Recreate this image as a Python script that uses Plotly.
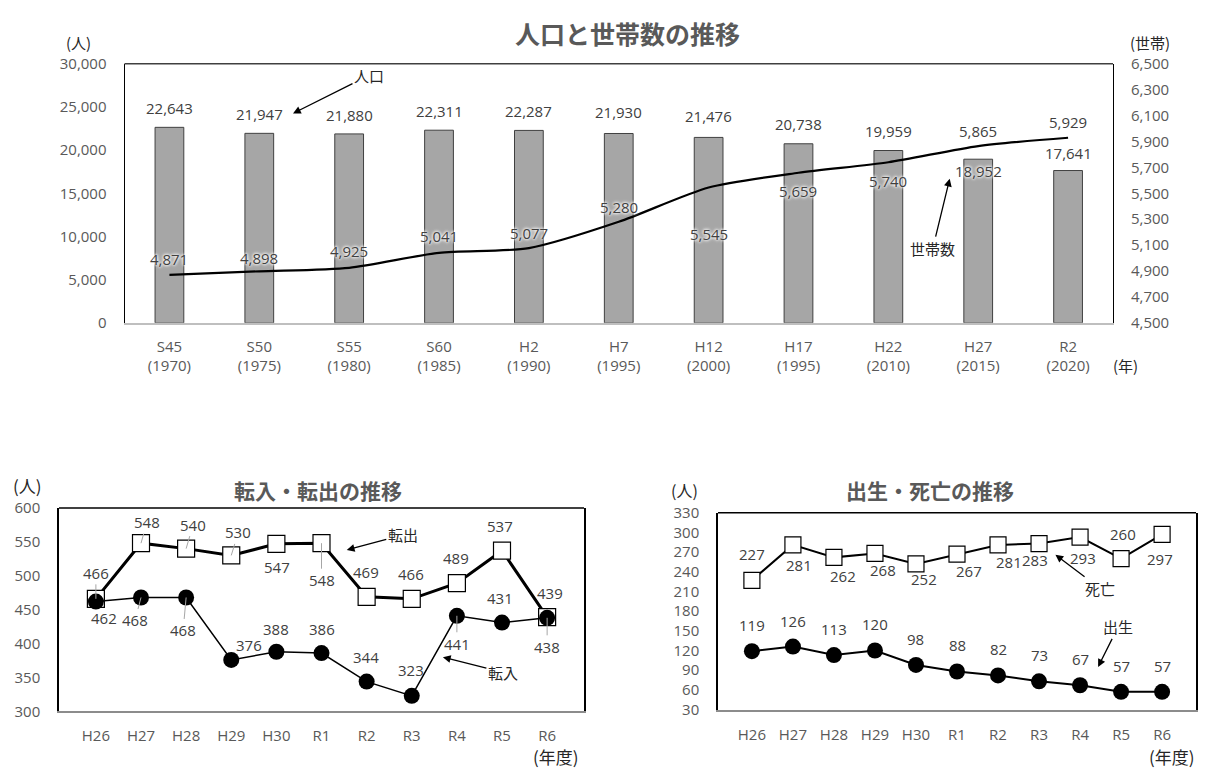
import plotly.graph_objects as go

# ---------------- data ----------------
census_labels = ["S45<br>(1970)", "S50<br>(1975)", "S55<br>(1980)", "S60<br>(1985)", "H2<br>(1990)",
                 "H7<br>(1995)", "H12<br>(2000)", "H17<br>(1995)", "H22<br>(2010)", "H27<br>(2015)",
                 "R2<br>(2020)"]
population = [22643, 21947, 21880, 22311, 22287, 21930, 21476, 20738, 19959, 18952, 17641]
households = [4871, 4898, 4925, 5041, 5077, 5280, 5545, 5659, 5740, 5865, 5929]

fiscal_years = ["H26", "H27", "H28", "H29", "H30", "R1", "R2", "R3", "R4", "R5", "R6"]
move_in = [462, 468, 468, 376, 388, 386, 344, 323, 441, 431, 438]
move_out = [466, 548, 540, 530, 547, 548, 469, 466, 489, 537, 439]
births = [119, 126, 113, 120, 98, 88, 82, 73, 67, 57, 57]
deaths = [227, 281, 262, 268, 252, 267, 281, 283, 293, 260, 297]

# label placement (pixel offsets: dx, dy up, leader line)
pop_lbl_dy = [19, 19, 19, 19, 19, 21, 21, 20, 20, -12, 18]
hh_lbl_dy = [16, 13, 17, 17, 15, 15, -46, -18, -19, 15, 16]
out_lbl = [(0, 26, True), (6, 21, True), (7, 24, True), (7, 23, True), (1, -23, False), (0, -37, True),
           (-1, 25, False), (-1, 25, False), (-1, 25, False), (-2, 25, False), (3, 24, False)]
in_lbl = [(8, -16, False), (-6, -23, True), (-3, -33, True), (18, 15, False), (0, 23, False), (0, 24, False),
          (-1, 25, False), (-1, 26, False), (0, -28, True), (-2, 25, False), (0, -29, True)]
death_lbl = [(0, 26), (6, -20), (9, -19), (8, -17), (8, -15), (12, -17), (11, -17), (-4, -16), (3, -21),
             (2, 25), (-2, -25)]
birth_lbl_dy = 26

# browser body margin compensation: reference pixel -> figure fraction
OFF = 8
W, H = 1214 - OFF, 775 - OFF
def px(x):
    return (x - OFF) / W
def py(y):
    return 1 - (y - OFF) / H

GRAY = "#595959"
TXT = "#404040"
NUM_FONT = "Open Sans, Noto Sans CJK JP"
JP_FONT = "Noto Sans CJK JP"

fig = go.Figure()

# ---------- top chart ----------
fig.add_trace(go.Bar(x=census_labels, y=population, xaxis="x", yaxis="y",
                     marker=dict(color="#a6a6a6", line=dict(color="#404040", width=1)),
                     width=0.32, showlegend=False))
fig.add_trace(go.Scatter(x=census_labels, y=households, xaxis="x", yaxis="y2", mode="lines",
                         line=dict(color="black", width=2.2, shape="spline", smoothing=0.7),
                         showlegend=False))

# ---------- bottom-left ----------
fig.add_trace(go.Scatter(x=fiscal_years, y=move_out, xaxis="x3", yaxis="y3", mode="lines+markers",
                         line=dict(color="black", width=3),
                         marker=dict(symbol="square", size=17, color="white", line=dict(color="black", width=1.2)),
                         showlegend=False))
fig.add_trace(go.Scatter(x=fiscal_years, y=move_in, xaxis="x3", yaxis="y3", mode="lines+markers",
                         line=dict(color="black", width=1.5),
                         marker=dict(symbol="circle", size=16, color="black"),
                         showlegend=False))

# ---------- bottom-right ----------
fig.add_trace(go.Scatter(x=fiscal_years, y=deaths, xaxis="x4", yaxis="y4", mode="lines+markers",
                         line=dict(color="black", width=2),
                         marker=dict(symbol="square", size=16, color="white", line=dict(color="black", width=1.2)),
                         showlegend=False))
fig.add_trace(go.Scatter(x=fiscal_years, y=births, xaxis="x4", yaxis="y4", mode="lines+markers",
                         line=dict(color="black", width=2),
                         marker=dict(symbol="circle", size=16, color="black"),
                         showlegend=False))

tickfont = dict(family=NUM_FONT, size=15, color=GRAY)
tickfont_s = dict(family=NUM_FONT, size=15, color=GRAY)

fig.update_layout(
    width=W, height=H, margin=dict(l=0, r=0, t=0, b=0),
    paper_bgcolor="white", plot_bgcolor="rgba(0,0,0,0)",
    bargap=0.68,
    xaxis=dict(domain=[px(124.5), px(1113)], anchor="y", showgrid=False, showline=True,
               linecolor="#bfbfbf", linewidth=1.5, ticks="", tickfont=tickfont, ticklabelstandoff=9),
    yaxis=dict(domain=[py(320), py(54)], range=[0, 30000], dtick=5000, tickformat=",",
               showgrid=False, showline=True, linecolor="black", linewidth=1,
               ticks="", tickfont=tickfont, ticklabelstandoff=14, zeroline=False),
    yaxis2=dict(overlaying="y", side="right", anchor="x", range=[4500, 6500], tick0=4500, dtick=200,
                tickformat=",", showgrid=False, showline=True, linecolor="black", linewidth=1,
                ticks="", tickfont=tickfont, ticklabelstandoff=14, zeroline=False),
    xaxis3=dict(domain=[px(59), px(584)], anchor="y3", showgrid=False, showline=True,
                linecolor="#8c8c8c", linewidth=2, ticks="", tickfont=tickfont_s, ticklabelstandoff=10),
    yaxis3=dict(domain=[py(719), py(510)], anchor="x3", range=[300, 600], dtick=50,
                showgrid=False, showline=True, linecolor="black", linewidth=1.5, mirror=True,
                ticks="", tickfont=tickfont_s, ticklabelstandoff=14, zeroline=False),
    xaxis4=dict(domain=[px(718), px(1196)], anchor="y4", showgrid=False, showline=True,
                linecolor="#8c8c8c", linewidth=2, ticks="", tickfont=tickfont_s, ticklabelstandoff=10),
    yaxis4=dict(domain=[py(717), py(515)], anchor="x4", range=[30, 330], dtick=30,
                showgrid=False, showline=True, linecolor="black", linewidth=1.5, mirror=True,
                ticks="", tickfont=tickfont_s, ticklabelstandoff=14, zeroline=False),
)

shapes = [
    dict(type="line", xref="paper", yref="paper", x0=px(124.5), x1=px(1113), y0=py(54), y1=py(54),
         line=dict(color="#404040", width=1.5)),
    dict(type="line", xref="paper", yref="paper", x0=px(59), x1=px(584), y0=py(510), y1=py(510),
         line=dict(color="black", width=1.5)),
    dict(type="line", xref="paper", yref="paper", x0=px(718), x1=px(1196), y0=py(515), y1=py(515),
         line=dict(color="black", width=1.5)),
]
fig.update_layout(shapes=shapes)

ann = []
def paper_text(text, x, y, size=14, bold=False, color=GRAY, family=JP_FONT):
    ann.append(dict(text=text, x=px(x), y=py(y), xref="paper", yref="paper", showarrow=False,
                    xanchor="center", yanchor="middle",
                    font=dict(family=family, size=size, color=color, weight="bold" if bold else "normal")))

paper_text("人口と世帯数の推移", 627, 22, size=25, bold=True)
paper_text("(人)", 78, 32, size=15, color="#262626")
paper_text("(世帯)", 1150, 32, size=15, color="#262626")
paper_text("(年)", 1125, 364, size=15, color="#262626")
paper_text("転入・転出の推移", 318, 492, size=21, bold=True)
paper_text("(人)", 27, 487, size=17, color="#262626")
paper_text("(年度)", 556, 765, size=17, color="#262626")
paper_text("出生・死亡の推移", 930, 492, size=21, bold=True)
paper_text("(人)", 684, 492, size=16, color="#262626")
paper_text("(年度)", 1172, 765, size=17, color="#262626")

halo = "0px 0px 3px white, 0px 0px 3px white, 0px 0px 4px white"
lblfont = dict(family=NUM_FONT, size=15, color=TXT)
for i, c in enumerate(census_labels):
    ann.append(dict(x=c, y=population[i], xref="x", yref="y", text=f"{population[i]:,}",
                    showarrow=False, yshift=pop_lbl_dy[i], font=dict(lblfont, shadow=halo)))
    ann.append(dict(x=c, y=households[i], xref="x", yref="y2", text=f"{households[i]:,}",
                    showarrow=False, yshift=hh_lbl_dy[i], font=dict(lblfont, shadow=halo)))

sfont = dict(family=NUM_FONT, size=15, color=TXT)
def point_label(xv, yv, xr, yr, val, dx, dy, leader):
    if leader:
        ann.append(dict(x=xv, y=yv, xref=xr, yref=yr, text=str(val), showarrow=True, arrowhead=0,
                        arrowwidth=1, arrowcolor="#a6a6a6", ax=dx, ay=-dy, standoff=0,
                        font=sfont))
    else:
        ann.append(dict(x=xv, y=yv, xref=xr, yref=yr, text=str(val), showarrow=False,
                        xshift=dx, yshift=dy, font=sfont))

for i, c in enumerate(fiscal_years):
    dx, dy, ld = out_lbl[i]
    point_label(c, move_out[i], "x3", "y3", move_out[i], dx, dy, ld)
    dx, dy, ld = in_lbl[i]
    point_label(c, move_in[i], "x3", "y3", move_in[i], dx, dy, ld)
    dx, dy = death_lbl[i]
    point_label(c, deaths[i], "x4", "y4", deaths[i], dx, dy, False)
    point_label(c, births[i], "x4", "y4", births[i], 0, birth_lbl_dy, False)

# callout arrows
cfont = dict(family=JP_FONT, size=15, color="#262626")
def callout(text, xv, yv, xr, yr, ax, ay):
    ann.append(dict(x=xv, y=yv, xref=xr, yref=yr, text=text, showarrow=True, arrowhead=2,
                    arrowsize=1.2, arrowwidth=1.3, arrowcolor="black", ax=ax, ay=ay, font=cfont))

callout("人口", 1.375, 24250, "x", "y", 76, -38)
callout("世帯数", 8.683, 16700, "x", "y", -17, 70)
callout("転出", 5.56, 538, "x3", "y3", 56, -15)
callout("転入", 7.69, 380, "x3", "y3", 60, 15)
callout("死亡", 7.40, 266, "x4", "y4", 45, 34)
callout("出生", 8.44, 95, "x4", "y4", 20, -40)

fig.update_layout(annotations=ann)
fig.write_html("out.html")
